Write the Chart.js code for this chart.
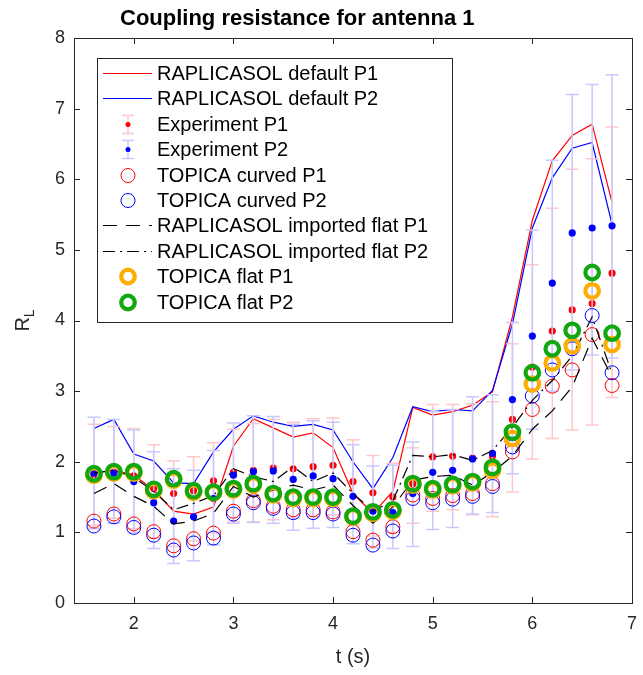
<!DOCTYPE html>
<html>
<head>
<meta charset="utf-8">
<script src="https://cdn.jsdelivr.net/npm/chart.js@4.4.1/dist/chart.umd.min.js"></script>
<style>
  html, body { margin: 0; padding: 0; background: #fff; }
</style>
</head>
<body>
<canvas id="chartOne" width="643" height="675"></canvas>
<script>
const times = [1.6, 1.8, 2.0, 2.2, 2.4, 2.6, 2.8, 3.0, 3.2, 3.4, 3.6, 3.8, 4.0, 4.2, 4.4, 4.6, 4.8, 5.0, 5.2, 5.4, 5.6, 5.8, 6.0, 6.2, 6.4, 6.6, 6.8];
const xTicks = [2, 3, 4, 5, 6, 7];
const yTicks = [0, 1, 2, 3, 4, 5, 6, 7, 8];

const raplDefaultP1 = [1.84, 1.88, 1.81, 1.60, 1.30, 1.26, 1.36, 2.22, 2.61, 2.48, 2.35, 2.41, 2.20, 1.55, 1.27, 1.58, 2.77, 2.66, 2.71, 2.80, 2.99, 4.05, 5.42, 6.26, 6.62, 6.78, 5.67];
const raplDefaultP2 = [2.47, 2.60, 2.11, 2.01, 1.70, 1.69, 2.14, 2.46, 2.65, 2.56, 2.50, 2.53, 2.45, 2.00, 1.62, 2.06, 2.78, 2.71, 2.74, 2.72, 3.01, 3.95, 5.31, 6.02, 6.44, 6.52, 5.36];

const expP1 = [1.82, 1.85, 1.80, 1.62, 1.55, 1.59, 1.73, 1.85, 1.88, 1.91, 1.90, 1.93, 1.95, 1.72, 1.56, 1.50, 1.69, 2.07, 2.08, 2.05, 2.08, 2.60, 3.34, 3.85, 4.15, 4.24, 4.67];
const expP1Lo = [1.10, 1.20, 1.05, 0.92, 0.80, 0.88, 1.00, 1.15, 1.15, 1.18, 1.20, 1.22, 1.25, 1.10, 0.95, 1.00, 1.13, 1.30, 1.32, 1.25, 1.22, 1.57, 2.04, 2.33, 2.45, 2.52, 2.91];
const expP1Hi = [2.53, 2.50, 2.47, 2.24, 2.01, 2.07, 2.27, 2.46, 2.54, 2.60, 2.56, 2.61, 2.62, 2.31, 2.09, 1.98, 2.20, 2.81, 2.81, 2.82, 2.85, 3.67, 4.79, 5.59, 6.14, 6.29, 6.74];
const expP2 = [1.84, 1.84, 1.72, 1.42, 1.16, 1.22, 1.48, 1.81, 1.86, 1.87, 1.75, 1.80, 1.76, 1.51, 1.30, 1.28, 1.55, 1.85, 1.88, 2.04, 2.12, 2.88, 3.78, 4.53, 5.24, 5.31, 5.34];
const expP2Lo = [1.05, 1.13, 1.00, 0.77, 0.56, 0.60, 0.82, 1.13, 1.14, 1.13, 1.03, 1.06, 1.07, 0.84, 0.78, 0.77, 0.80, 1.04, 1.07, 1.26, 1.28, 1.83, 2.46, 3.00, 3.30, 3.51, 3.47];
const expP2Hi = [2.63, 2.60, 2.45, 2.14, 1.90, 1.88, 2.16, 2.55, 2.65, 2.64, 2.53, 2.58, 2.56, 2.24, 1.94, 1.95, 2.28, 2.71, 2.74, 2.92, 2.95, 3.97, 5.28, 6.27, 7.20, 7.34, 7.48];

const topicaCurvedP1 = [1.16, 1.26, 1.12, 1.01, 0.81, 0.91, 0.99, 1.30, 1.45, 1.37, 1.32, 1.32, 1.29, 1.01, 0.89, 1.08, 1.53, 1.48, 1.52, 1.55, 1.69, 2.14, 2.74, 3.07, 3.30, 3.80, 3.08];
const topicaCurvedP2 = [1.09, 1.22, 1.07, 0.96, 0.75, 0.85, 0.92, 1.26, 1.42, 1.34, 1.28, 1.28, 1.26, 0.96, 0.82, 1.02, 1.48, 1.42, 1.47, 1.51, 1.65, 2.21, 2.93, 3.30, 3.60, 4.07, 3.26];

const raplFlatP1 = [1.55, 1.69, 1.51, 1.37, 1.12, 1.16, 1.27, 1.65, 1.50, 1.60, 1.67, 1.60, 1.67, 1.38, 1.13, 1.36, 1.74, 1.79, 1.81, 1.67, 1.85, 2.08, 2.46, 2.72, 3.06, 3.75, 3.20];
const raplFlatP2 = [1.84, 1.88, 1.78, 1.58, 1.32, 1.41, 1.52, 1.90, 1.79, 1.72, 1.93, 1.72, 1.84, 1.55, 1.30, 1.45, 2.09, 2.07, 2.10, 2.02, 2.16, 2.49, 2.87, 3.15, 3.50, 4.05, 3.25];

const topicaFlatP1 = [1.81, 1.84, 1.84, 1.59, 1.74, 1.57, 1.56, 1.60, 1.67, 1.53, 1.48, 1.48, 1.48, 1.22, 1.27, 1.30, 1.67, 1.60, 1.66, 1.70, 1.88, 2.33, 3.10, 3.40, 3.64, 4.42, 3.66];
const topicaFlatP2 = [1.83, 1.86, 1.86, 1.61, 1.76, 1.59, 1.57, 1.62, 1.69, 1.55, 1.50, 1.50, 1.50, 1.23, 1.29, 1.32, 1.69, 1.62, 1.68, 1.72, 1.92, 2.42, 3.26, 3.60, 3.86, 4.68, 3.82];

const fontName = "'Liberation Sans', Arial, sans-serif";
const axisColor = '#262626';

function pts(vals) {
    return vals.map((v, i) => ({ x: times[i], y: v }));
}

const datasets = [
    { label: 'RAPLICASOL default P1', data: pts(raplDefaultP1), borderColor: '#ff0000', borderWidth: 1.2, pointRadius: 0, legendKind: 'line' },
    { label: 'RAPLICASOL default P2', data: pts(raplDefaultP2), borderColor: '#0000ff', borderWidth: 1.2, pointRadius: 0, legendKind: 'line' },
    { label: 'Experiment P1', data: pts(expP1), showLine: false, pointRadius: 3.6, pointBackgroundColor: '#ff0000', pointBorderWidth: 0, legendKind: 'errdot', barColor: '#ffc8c8', dotColor: '#ff0000' },
    { label: 'Experiment P2', data: pts(expP2), showLine: false, pointRadius: 3.6, pointBackgroundColor: '#0000ff', pointBorderWidth: 0, legendKind: 'errdot', barColor: '#c8c8ff', dotColor: '#0000ff' },
    { label: 'TOPICA curved P1', data: pts(topicaCurvedP1), showLine: false, pointRadius: 7, pointBackgroundColor: 'rgba(0,0,0,0)', pointBorderColor: '#ff0000', pointBorderWidth: 1, legendKind: 'circle' },
    { label: 'TOPICA curved P2', data: pts(topicaCurvedP2), showLine: false, pointRadius: 7, pointBackgroundColor: 'rgba(0,0,0,0)', pointBorderColor: '#0000ff', pointBorderWidth: 1, legendKind: 'circle' },
    { label: 'RAPLICASOL imported flat P1', data: pts(raplFlatP1), borderColor: '#000000', borderWidth: 1.2, borderDash: [14, 9], pointRadius: 0, legendKind: 'line' },
    { label: 'RAPLICASOL imported flat P2', data: pts(raplFlatP2), borderColor: '#000000', borderWidth: 1.2, borderDash: [12, 5, 2, 5], pointRadius: 0, legendKind: 'line' },
    { label: 'TOPICA flat P1', data: pts(topicaFlatP1), showLine: false, pointRadius: 6.8, pointBackgroundColor: 'rgba(0,0,0,0)', pointBorderColor: '#ffad00', pointBorderWidth: 4.2, legendKind: 'circle' },
    { label: 'TOPICA flat P2', data: pts(topicaFlatP2), showLine: false, pointRadius: 6.8, pointBackgroundColor: 'rgba(0,0,0,0)', pointBorderColor: '#10a810', pointBorderWidth: 4.2, legendKind: 'circle' }
];
// later series on top, like matlab
datasets.forEach((d, i) => { d.order = datasets.length - i; d.tension = 0; });

const errBars = {
    2: [expP1Lo, expP1Hi, '#ffc8c8'],
    3: [expP2Lo, expP2Hi, '#c8c8ff']
};

const errorBarPlugin = {
    id: 'errorBars',
    beforeDatasetDraw(chart, args) {
        const bars = errBars[args.index];
        if (!bars) return;
        const ctx = chart.ctx;
        const xs = chart.scales.x;
        const ys = chart.scales.y;
        ctx.save();
        ctx.strokeStyle = bars[2];
        ctx.lineWidth = 1.5;
        times.forEach((t, i) => {
            const px = xs.getPixelForValue(t);
            const lo = ys.getPixelForValue(bars[0][i]);
            const hi = ys.getPixelForValue(bars[1][i]);
            ctx.beginPath();
            ctx.moveTo(px, lo);
            ctx.lineTo(px, hi);
            ctx.moveTo(px - 6.5, lo);
            ctx.lineTo(px + 6.5, lo);
            ctx.moveTo(px - 6.5, hi);
            ctx.lineTo(px + 6.5, hi);
            ctx.stroke();
        });
        ctx.restore();
    }
};

const axesBoxPlugin = {
    id: 'axesBox',
    afterDatasetsDraw(chart) {
        const ctx = chart.ctx;
        const a = chart.chartArea;
        const xs = chart.scales.x;
        const ys = chart.scales.y;
        ctx.save();
        ctx.strokeStyle = axisColor;
        ctx.lineWidth = 1;
        ctx.strokeRect(Math.round(a.left) + 0.5, Math.round(a.top) + 0.5, Math.round(a.width), Math.round(a.height));
        ctx.beginPath();
        xTicks.forEach(v => {
            const px = Math.round(xs.getPixelForValue(v)) + 0.5;
            ctx.moveTo(px, a.bottom);
            ctx.lineTo(px, a.bottom - 6);
            ctx.moveTo(px, a.top);
            ctx.lineTo(px, a.top + 6);
        });
        yTicks.forEach(v => {
            const py = Math.round(ys.getPixelForValue(v)) + 0.5;
            ctx.moveTo(a.left, py);
            ctx.lineTo(a.left + 6, py);
            ctx.moveTo(a.right, py);
            ctx.lineTo(a.right - 6, py);
        });
        ctx.stroke();

        // title and axis labels
        ctx.fillStyle = '#000000';
        ctx.font = 'bold 22px ' + fontName;
        ctx.textAlign = 'left';
        ctx.textBaseline = 'alphabetic';
        ctx.fillText('Coupling resistance for antenna 1', 120, 25);

        ctx.fillStyle = axisColor;
        ctx.font = '20px ' + fontName;
        ctx.textAlign = 'center';
        ctx.fillText('t (s)', (a.left + a.right) / 2, 663);

        ctx.translate(29, (a.top + a.bottom) / 2);
        ctx.rotate(-Math.PI / 2);
        ctx.textAlign = 'left';
        const rw = ctx.measureText('R').width;
        ctx.font = '14px ' + fontName;
        const lw = ctx.measureText('L').width;
        const x0 = -(rw + lw) / 2;
        ctx.font = '20px ' + fontName;
        ctx.fillText('R', x0, 0);
        ctx.font = '14px ' + fontName;
        ctx.fillText('L', x0 + rw, 5);
        ctx.restore();
    }
};

const legendPlugin = {
    id: 'matLegend',
    afterDraw(chart) {
        const ctx = chart.ctx;
        const box = { left: 97, top: 58, right: 452, bottom: 322 };
        ctx.save();
        ctx.fillStyle = '#ffffff';
        ctx.fillRect(box.left, box.top, box.right - box.left, box.bottom - box.top);
        ctx.strokeStyle = axisColor;
        ctx.lineWidth = 1;
        ctx.strokeRect(box.left + 0.5, box.top + 0.5, box.right - box.left, box.bottom - box.top);

        chart.data.datasets.forEach((d, i) => {
            const y = Math.round(73 + 25.4 * i) + 0.5;
            const cx = 128;
            ctx.save();
            if (d.legendKind === 'line') {
                ctx.strokeStyle = d.borderColor;
                ctx.lineWidth = 1.2;
                ctx.setLineDash(d.borderDash || []);
                ctx.beginPath();
                ctx.moveTo(103, y);
                ctx.lineTo(152, y);
                ctx.stroke();
            } else if (d.legendKind === 'errdot') {
                ctx.strokeStyle = d.barColor;
                ctx.lineWidth = 1.5;
                ctx.beginPath();
                ctx.moveTo(cx, y - 9);
                ctx.lineTo(cx, y + 9);
                ctx.moveTo(cx - 6, y - 9);
                ctx.lineTo(cx + 6, y - 9);
                ctx.moveTo(cx - 6, y + 9);
                ctx.lineTo(cx + 6, y + 9);
                ctx.stroke();
                ctx.fillStyle = d.dotColor;
                ctx.beginPath();
                ctx.arc(cx, y, 2.5, 0, Math.PI * 2);
                ctx.fill();
            } else {
                ctx.strokeStyle = d.pointBorderColor;
                ctx.lineWidth = d.pointBorderWidth;
                ctx.beginPath();
                ctx.arc(cx, y, d.pointRadius, 0, Math.PI * 2);
                ctx.stroke();
            }
            ctx.restore();
            ctx.fillStyle = '#000000';
            ctx.font = '20px ' + fontName;
            ctx.textAlign = 'left';
            ctx.textBaseline = 'middle';
            ctx.fillText(d.label, 157, y + 1);
        });
        ctx.restore();
    }
};

const firstChart = document.getElementById('chartOne').getContext('2d');

const couplingChart = new Chart(firstChart, {
    type: 'line',
    data: { datasets: datasets },
    options: {
        responsive: false,
        animation: false,
        layout: { padding: { left: 0, right: 3, top: 38, bottom: 0 } },
        plugins: {
            legend: { display: false },
            tooltip: { enabled: false },
            title: { display: false }
        },
        scales: {
            x: {
                type: 'linear',
                min: 1.4,
                max: 7,
                grid: { display: false, drawTicks: false },
                border: { display: false },
                ticks: { color: axisColor, font: { family: fontName, size: 18 }, padding: 10 },
                afterBuildTicks: s => { s.ticks = xTicks.map(v => ({ value: v })); },
                afterFit: s => { s.height = 72; s.paddingRight = 0; s.paddingLeft = 0; }
            },
            y: {
                type: 'linear',
                min: 0,
                max: 8,
                grid: { display: false, drawTicks: false },
                border: { display: false },
                ticks: { color: axisColor, font: { family: fontName, size: 18 }, padding: 9 },
                afterBuildTicks: s => { s.ticks = yTicks.map(v => ({ value: v })); },
                afterFit: s => { s.width = 74; s.paddingTop = 0; s.paddingBottom = 0; }
            }
        }
    },
    plugins: [errorBarPlugin, axesBoxPlugin, legendPlugin]
});
</script>
</body>
</html>
